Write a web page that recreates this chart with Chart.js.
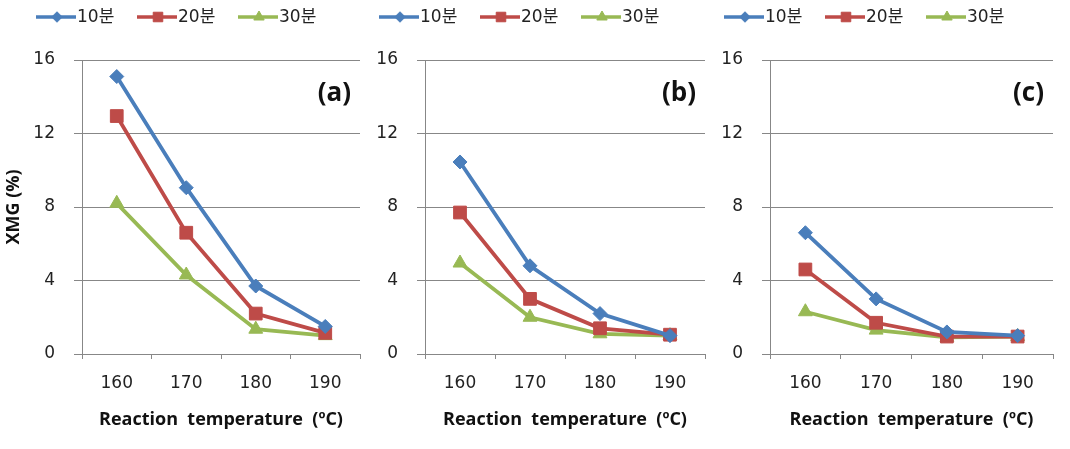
<!DOCTYPE html>
<html>
<head>
<meta charset="utf-8">
<script src="https://cdn.jsdelivr.net/npm/chart.js@4/dist/chart.umd.min.js"></script>
<style>
  html, body { margin: 0; padding: 0; background: #fff; }
  #wrap { position: relative; width: 1070px; height: 449px; overflow: hidden; }
  #wrap canvas { position: absolute; top: 0; }
</style>
</head>
<body>
<div id="wrap">
  <canvas id="chartA" width="370" height="449" style="left:0px"></canvas>
  <canvas id="chartB" width="355" height="449" style="left:360px"></canvas>
  <canvas id="chartC" width="355" height="449" style="left:715px"></canvas>
</div>
<script>
  const temps = ["160", "170", "180", "190"];
  const seriesNames = ["10분", "20분", "30분"];
  const yTicks = [0, 4, 8, 12, 16];

  // panel (a)
  const a10 = [15.1, 9.05, 3.7, 1.5];
  const a20 = [12.95, 6.6, 2.2, 1.15];
  const a30 = [8.2, 4.3, 1.35, 1.0];
  // panel (b)
  const b10 = [10.45, 4.8, 2.2, 1.0];
  const b20 = [7.7, 3.0, 1.4, 1.05];
  const b30 = [4.95, 2.0, 1.1, 1.0];
  // panel (c)
  const c10 = [6.6, 3.0, 1.2, 1.0];
  const c20 = [4.6, 1.7, 0.95, 0.95];
  const c30 = [2.3, 1.3, 0.9, 0.95];

  const TICK_FONT = "'DejaVu Sans', 'Noto Sans CJK KR', sans-serif";
  const TITLE_FONT = "'Open Sans', 'Noto Sans CJK KR', sans-serif";
  const GRID = "#878787";
  const styles = [
    { color: "#4A7EBB", pointStyle: "rectRot", radius: 7 },
    { color: "#BE4B48", pointStyle: "rect", radius: 9 },
    { color: "#98B954", pointStyle: "triangle", radius: 8 }
  ];

  const panelDeco = {
    id: "panelDeco",
    afterDraw(chart, args, opts) {
      const ctx = chart.ctx;
      const area = chart.chartArea;
      ctx.save();
      // legend: line with marker, then label
      let x0 = area.left - 46;
      chart.data.datasets.forEach((ds, i) => {
        const st = styles[i];
        const y = 17;
        ctx.strokeStyle = st.color;
        ctx.lineWidth = 3.5;
        ctx.beginPath();
        ctx.moveTo(x0, y);
        ctx.lineTo(x0 + 40, y);
        ctx.stroke();
        ctx.fillStyle = st.color;
        ctx.lineWidth = 1;
        Chart.helpers.drawPoint(ctx, { pointStyle: st.pointStyle, radius: st.radius * 0.75, rotation: 0, borderWidth: 1 }, x0 + 21, y);
        ctx.fillStyle = "#222";
        ctx.font = "17px " + TICK_FONT;
        ctx.textBaseline = "middle";
        ctx.textAlign = "left";
        ctx.fillText(ds.label, x0 + 41, y + 1);
        x0 += 101;
      });
      // panel letter
      ctx.font = "bold 26px " + TITLE_FONT;
      ctx.fillStyle = "#111";
      ctx.textAlign = "right";
      ctx.textBaseline = "middle";
      ctx.fillText(opts.letter, area.right - 9, 94);
      ctx.restore();
    }
  };

  function makePanel(canvasId, d10, d20, d30, letter, yWidth, rightPad, showYTitle) {
    const el = document.getElementById(canvasId);
    const data = [d10, d20, d30];
    return new Chart(el, {
      type: "line",
      data: {
        labels: temps,
        datasets: data.map((vals, i) => ({
          label: seriesNames[i],
          data: vals,
          borderColor: styles[i].color,
          backgroundColor: styles[i].color,
          borderWidth: 3.8,
          pointStyle: styles[i].pointStyle,
          pointRadius: styles[i].radius,
          pointBorderWidth: 1,
          tension: 0,
          fill: false
        }))
      },
      options: {
        responsive: false,
        animation: false,
        layout: { padding: { top: 60, right: rightPad, bottom: 0, left: 0 } },
        plugins: {
          legend: { display: false },
          tooltip: { enabled: false },
          panelDeco: { letter }
        },
        scales: {
          x: {
            type: "category",
            offset: true,
            grid: { display: true, drawOnChartArea: false, offset: true, tickLength: 5, color: GRID },
            border: { color: GRID },
            ticks: { color: "#222", padding: 14, font: { family: TICK_FONT, size: 17 } },
            title: {
              display: true,
              text: "Reaction  temperature  (ºC)",
              color: "#111",
              font: { family: TITLE_FONT, size: 18, weight: "bold" },
              padding: { top: 0, bottom: 18 }
            },
            afterFit(scale) { scale.height = 95; }
          },
          y: {
            min: 0,
            max: 16,
            afterBuildTicks(scale) { scale.ticks = yTicks.map((v) => ({ value: v })); },
            grid: { color: GRID, tickLength: 8 },
            border: { color: GRID },
            ticks: { color: "#222", padding: 19, font: { family: TICK_FONT, size: 17 } },
            title: {
              display: showYTitle,
              text: "XMG (%)",
              color: "#111",
              font: { family: TITLE_FONT, size: 18, weight: "bold" },
              padding: { top: 3, bottom: 0 }
            },
            afterFit(scale) { scale.width = yWidth; }
          }
        }
      },
      plugins: [panelDeco]
    });
  }

  makePanel("chartA", a10, a20, a30, "(a)", 82, 8, true);
  makePanel("chartB", b10, b20, b30, "(b)", 65, 8, false);
  makePanel("chartC", c10, c20, c30, "(c)", 55, 17, false);
</script>
</body>
</html>
